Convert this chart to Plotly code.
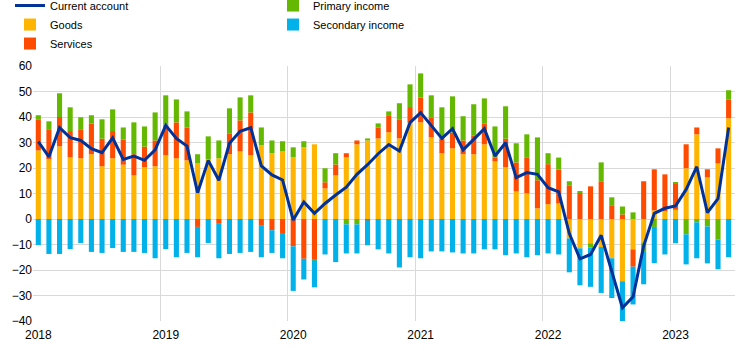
import plotly.graph_objects as go

months = list(range(66))  # Jan 2018 .. Jun 2023 (monthly index)
year_labels = ["2018", "2019", "2020", "2021", "2022", "2023"]
year_tick_pos = [0, 12, 24, 36, 48, 60]

goods = [26.9, 23.5, 28.5, 24.2, 23.8, 25.4, 20.7, 23.8, 21.3, 17.1, 20.4, 20.7,
         25.0, 23.8, 23.0, 21.8, 23.4, 23.8, 25.4, 26.5, 25.0, 28.9, 25.8, 26.5,
         24.2, 28.1, 29.3, 12.0, 17.1, 24.2, 29.3, 30.8, 31.6, 34.0, 31.6, 37.8,
         37.9, 32.0, 25.8, 27.7, 25.4, 25.4, 29.3, 22.6, 20.3, 10.8, 10.1, 4.2,
         5.8, 6.1, -7.6, -11.5, -9.5, -11.0, -15.4, -24.4, -11.9, -9.2, 3.4, 3.1,
         3.6, 19.9, 33.2, 16.3, 21.8, 39.5]
services = [12.2, 11.7, 11.5, 10.3, 11.4, 12.1, 10.8, 10.7, 9.9, 8.3, 8.0, 10.1,
            12.0, 14.1, 12.9, -3.1, 0.0, -1.6, 8.2, 12.2, 16.8, -2.4, -4.4, -5.5,
            -10.7, -15.6, -15.8, 2.4, 4.3, 1.6, 1.5, -0.5, 4.3, 6.7, 7.5, 6.1,
            9.8, 7.9, 5.8, 6.2, 5.4, 7.4, 8.2, 1.6, 11.2, 11.4, 14.1, 11.0,
            15.7, 13.3, 13.2, 10.3, 12.8, 14.8, 5.4, 1.8, -6.8, 14.8, 16.1, 14.4,
            10.3, 9.4, 2.7, 3.2, 5.9, 7.4]
primary = [1.6, 3.1, 9.3, 9.3, 4.7, 3.2, 7.6, 8.5, 4.7, 12.5, 7.9, 11.0,
           11.5, 9.0, 6.3, 3.6, 9.0, 7.0, 9.8, 9.0, 6.7, 7.0, 5.0, 4.0,
           3.9, 2.4, -0.4, 5.5, 4.4, -2.1, -2.1, 0.8, 1.6, 1.5, 6.3, 8.9,
           9.4, 8.6, 12.2, 14.2, 9.5, 12.2, 9.8, 12.1, 12.7, 7.5, 9.0, 16.8,
           4.3, 4.7, 1.6, 0.5, -1.7, 7.4, 3.1, 3.1, 2.6, -3.4, -3.1, 0.0,
           0.4, -6.0, -1.3, -2.9, -8.0, 3.6]
secondary = [-10.2, -13.7, -13.7, -11.8, -9.4, -12.9, -13.3, -11.4, -12.9, -12.9, -13.3, -15.4,
             -11.8, -15.0, -13.3, -11.9, -9.4, -13.8, -13.7, -13.3, -12.9, -12.6, -8.9, -9.9,
             -17.5, -8.1, -10.6, -13.9, -16.9, -11.4, -11.4, -9.8, -11.9, -13.5, -19.0, -15.0,
             -15.4, -12.7, -12.7, -13.1, -13.5, -13.5, -11.9, -11.9, -14.2, -13.5, -15.0, -14.2,
             -13.5, -13.9, -13.3, -14.5, -15.4, -18.0, -15.6, -15.6, -14.8, -13.0, -14.2, -13.9,
             -9.5, -11.8, -14.1, -14.5, -11.7, -15.0]
current_account = [30.3, 24.4, 35.8, 31.9, 30.8, 27.6, 26.0, 31.8, 23.4, 24.7, 23.0, 27.1,
                   36.7, 31.6, 28.6, 10.3, 23.0, 15.2, 29.7, 34.4, 35.8, 20.8, 17.3, 15.3,
                   -0.4, 6.7, 2.2, 6.1, 9.4, 12.5, 17.5, 21.3, 25.6, 29.2, 26.7, 37.8,
                   41.7, 36.7, 31.6, 35.4, 27.1, 31.2, 35.4, 24.7, 29.9, 16.2, 18.2, 17.5,
                   12.3, 10.6, -5.7, -15.6, -13.9, -6.4, -21.0, -34.8, -30.5, -10.6, 2.2, 4.2,
                   5.1, 11.6, 20.5, 2.5, 8.0, 35.9]

y_ticks = [-40, -30, -20, -10, 0, 10, 20, 30, 40, 50, 60]

fig = go.Figure()
bar_specs = [
    ("Goods", goods, "#FFB400", 3),
    ("Services", services, "#FF4B00", 5),
    ("Primary income", primary, "#65B800", 2),
    ("Secondary income", secondary, "#00B1EA", 4),
]
for name, vals, col, rank in bar_specs:
    fig.add_trace(go.Bar(x=months, y=vals, name=name, marker=dict(color=col, line=dict(width=0)),
                         legendrank=rank))
fig.add_trace(go.Scatter(x=months, y=current_account, name="Current account", mode="lines",
                         line=dict(color="#003299", width=3), legendrank=1))

fig.update_layout(
    width=750, height=351,
    margin=dict(l=33, r=15, t=66, b=30, autoexpand=False),
    barmode="relative", bargap=0.52,
    paper_bgcolor="white", plot_bgcolor="white",
    font=dict(family="Liberation Sans, Arial, sans-serif", size=12, color="#222222"),
    showlegend=True,
    legend=dict(orientation="h", x=-0.0328, xanchor="left", y=1.294, yanchor="top",
                entrywidth=218, entrywidthmode="pixels",
                font=dict(family="Liberation Sans, Arial, sans-serif", size=11, color="#000000"),
                tracegroupgap=0, itemwidth=30, bgcolor="rgba(0,0,0,0)"),
    xaxis=dict(range=[-0.5, 65.6], tickmode="array", tickvals=year_tick_pos, ticktext=year_labels,
               showgrid=False, zeroline=False, showline=False, ticks="",
               ticklabelstandoff=5, automargin=False,
               minor=dict(tickmode="linear", tick0=-0.5, dtick=12, showgrid=True,
                          gridcolor="#d9d9d9", gridwidth=1, ticks=""),
               tickfont=dict(size=12, color="#000000")),
    yaxis=dict(range=[-40, 60], tickmode="array", tickvals=y_ticks,
               showgrid=True, gridcolor="#d9d9d9", gridwidth=1,
               zeroline=False, showline=False, ticks="", automargin=False,
               tickfont=dict(size=12, color="#000000")),
)

fig.write_html("out.html")
